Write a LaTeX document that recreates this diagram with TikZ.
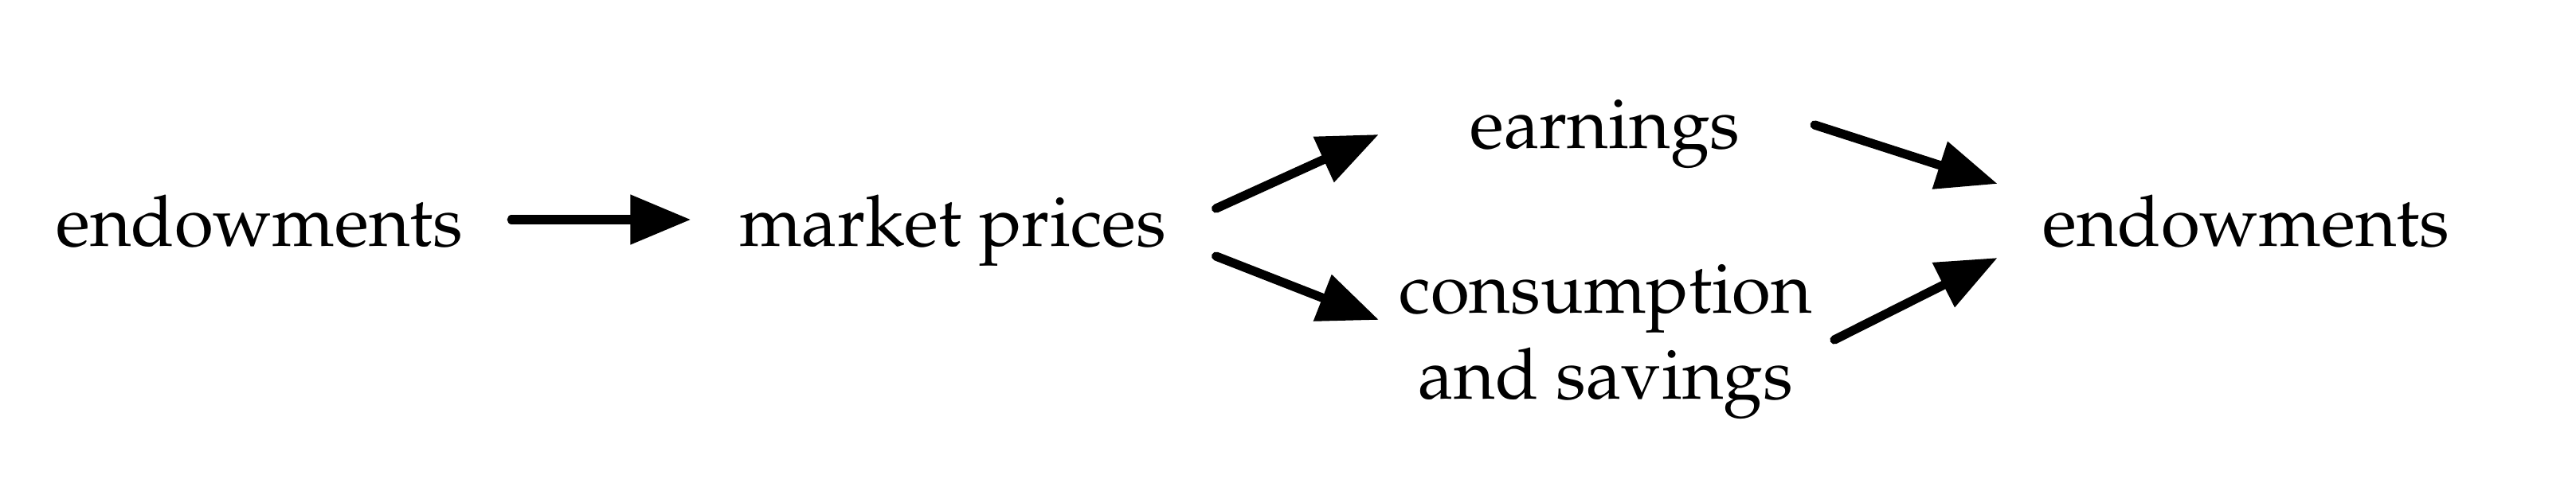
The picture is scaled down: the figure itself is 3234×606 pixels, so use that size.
\documentclass[tikz,border=0pt]{standalone}
\usepackage[T1]{fontenc}
\usepackage{mathpazo}
\usetikzlibrary{arrows.meta}
\begin{document}
\begin{tikzpicture}[x=0.01cm,y=-0.01cm,
  lbl/.style={inner sep=0pt, anchor=base, font=\fontsize{25.3}{30.5}\selectfont},
  arr/.style={line width=3.2pt, line cap=round, -{Triangle[length=0.76cm,width=0.6cm]}}]
\useasboundingbox (0,0) rectangle (3234,606);
\node[lbl] (e1) at (326,309) {endowments};
\node[lbl] (mp) at (1196,309) {market prices};
\node[lbl] (ea) at (2015,186) {earnings};
\node[lbl, align=center] (cs) at (2016,501) {consumption\\and savings};
\node[lbl] (e2) at (2820,309) {endowments};
\draw[arr] ([shift={(60,-33)}]e1.base east) -- ([shift={(-60,-33)}]mp.base west);
\draw[arr] ([shift={(62,-47)}]mp.base east) -- ([shift={(-114,-17)}]ea.base west);
\draw[arr] ([shift={(62,13)}]mp.base east) -- ([shift={(-25,-99)}]cs.base west);
\draw[arr] ([shift={(93,-29)}]ea.base east) -- ([shift={(-56,-78)}]e2.base west);
\draw[arr] ([shift={(27,-74)}]cs.base east) -- ([shift={(-56,15)}]e2.base west);
\end{tikzpicture}
\end{document}
